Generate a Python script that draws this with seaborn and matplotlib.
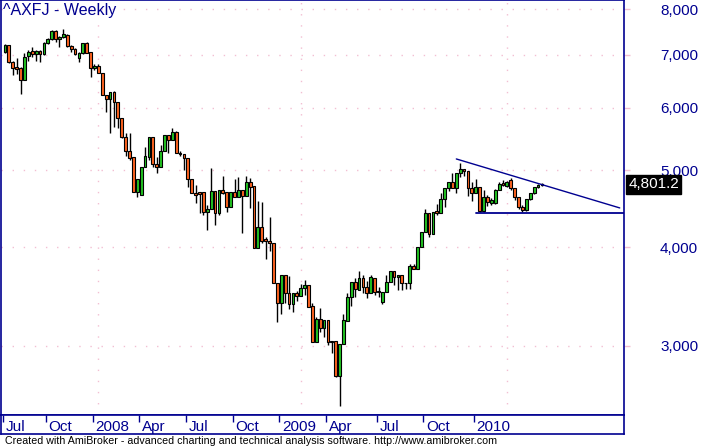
import numpy as np
import matplotlib
matplotlib.use("Agg")
import matplotlib.pyplot as plt
import matplotlib.transforms as mtransforms
import seaborn as sns

# weekly OHLC, ^AXFJ (one value per bar)
opens = [7058, 7206, 6857, 6759, 6740, 6510, 6978, 7077, 7018, 7077,
         7018, 7246, 7329, 7503, 7329, 7373, 7417, 7186, 7117, 6937,
         7038, 7246, 7058, 6740, 6779, 6642, 6230, 6157, 6285, 6104,
         5826, 5513, 5293, 5200, 4697, 4656, 5051, 5200, 5513, 5096,
         5051, 5293, 5545, 5465, 5594, 5262, 5246, 5185, 4878, 4683,
         4697, 4697, 4432, 4470, 4710, 4419, 4724, 4697, 4497, 4697,
         4629, 4724, 4643, 4835, 4779, 3991, 4242, 4096, 4072, 4049,
         3604, 3401, 3689, 3501, 3391, 3501, 3470, 3552, 3583, 3370,
         3035, 3246, 3162, 3237, 3044, 3044, 2749, 3018, 3228, 3460,
         3615, 3532, 3657, 3562, 3501, 3657, 3521, 3411, 3511, 3615,
         3732, 3668, 3689, 3604, 3604, 3787, 3754, 4003, 4180, 4419,
         4156, 4445, 4419, 4602, 4751, 4835, 4751, 4964, 5022, 4993,
         4751, 4683, 4765, 4445, 4629, 4549, 4549, 4724, 4821, 4779,
         4864, 4751, 4629, 4497, 4457, 4602, 4683, 4765, 4793]
highs = [7226, 7206, 6876, 6937, 6759, 7038, 7097, 7165, 7097, 7097,
         7266, 7351, 7525, 7525, 7395, 7548, 7439, 7206, 7137, 7058,
         7246, 7266, 7058, 6818, 6818, 6642, 6230, 6285, 6303, 6104,
         5826, 5578, 5578, 5200, 4878, 5051, 5354, 5513, 5513, 5200,
         5385, 5545, 5545, 5659, 5610, 5293, 5246, 5185, 4878, 4793,
         4697, 4697, 4523, 5036, 4710, 4724, 4921, 4697, 4697, 4878,
         4907, 4724, 4921, 4892, 4779, 4576, 4563, 4120, 4367, 4049,
         3604, 3689, 3689, 3678, 3501, 3521, 3594, 3636, 3583, 3401,
         3265, 3351, 3237, 3237, 3044, 3044, 3018, 3293, 3501, 3615,
         3657, 3732, 3689, 3625, 3689, 3657, 3562, 3511, 3689, 3732,
         3732, 3689, 3689, 3604, 3809, 3809, 4003, 4180, 4470, 4419,
         4432, 4536, 4683, 4751, 4835, 4964, 4964, 5110, 5022, 4993,
         4835, 4878, 4765, 4724, 4656, 4616, 4738, 4835, 4864, 4849,
         4892, 4751, 4629, 4523, 4602, 4683, 4765, 4807, 4821]
lows = [7038, 6837, 6603, 6622, 6248, 6510, 6876, 6958, 6876, 6857,
        6999, 7226, 7307, 7266, 7165, 7351, 7165, 7058, 6999, 6857,
        7018, 7038, 6566, 6701, 6642, 6230, 5929, 5578, 5675, 5659,
        5497, 5216, 5155, 4697, 4629, 4656, 5051, 5155, 5051, 4964,
        5051, 5293, 5262, 5465, 5262, 5216, 5007, 4765, 4683, 4549,
        4419, 4393, 4205, 4470, 4267, 4393, 4670, 4432, 4497, 4629,
        4629, 4168, 4643, 4483, 3991, 3991, 4049, 3864, 3956, 3604,
        3218, 3293, 3401, 3342, 3312, 3421, 3470, 3480, 3361, 3035,
        3035, 3125, 3080, 3009, 2939, 2741, 2520, 3018, 3228, 3370,
        3460, 3532, 3501, 3450, 3501, 3480, 3460, 3391, 3511, 3615,
        3583, 3532, 3532, 3542, 3542, 3754, 3754, 4003, 4180, 4120,
        4156, 4393, 4419, 4497, 4710, 4751, 4683, 4907, 4921, 4643,
        4576, 4683, 4432, 4432, 4510, 4523, 4536, 4724, 4779, 4765,
        4724, 4589, 4470, 4432, 4445, 4589, 4670, 4751, 4779]
closes = [7206, 6857, 6740, 6720, 6510, 6958, 7058, 7018, 7077, 7018,
          7246, 7329, 7503, 7329, 7373, 7439, 7186, 7117, 7018, 7038,
          7246, 7038, 6740, 6779, 6642, 6230, 6157, 6285, 6104, 5826,
          5513, 5293, 5185, 4697, 4878, 5051, 5216, 5513, 5096, 5051,
          5293, 5545, 5465, 5594, 5262, 5246, 5185, 4878, 4683, 4656,
          4670, 4432, 4470, 4710, 4419, 4724, 4683, 4497, 4697, 4629,
          4724, 4643, 4835, 4765, 3991, 4242, 4072, 4072, 4049, 3604,
          3401, 3689, 3501, 3391, 3501, 3470, 3552, 3583, 3361, 3035,
          3246, 3162, 3237, 3035, 3035, 2749, 3018, 3237, 3460, 3615,
          3542, 3657, 3562, 3501, 3668, 3511, 3511, 3511, 3615, 3732,
          3668, 3689, 3604, 3600, 3787, 3754, 4003, 4180, 4419, 4156,
          4432, 4419, 4602, 4751, 4835, 4751, 4964, 5022, 4993, 4751,
          4683, 4765, 4445, 4629, 4563, 4589, 4724, 4807, 4793, 4835,
          4751, 4629, 4497, 4457, 4602, 4683, 4765, 4793, 4801.2]

tick_bars = [0, 11, 23, 35, 47, 59, 71, 83, 96, 108, 121]
tick_labels = ["Jul", "Oct", "2008", "Apr", "Jul", "Oct", "2009", "Apr", "Jul", "Oct", "2010"]
price_ticks = [3000, 4000, 5000, 6000, 7000, 8000]
grid_bars = [24, 76, 129]

# hand-drawn trend lines (bar index, price)
resist_x = [116, 158]
resist_y = [5170, 4483]
support_x = [121, 160]
support_y = [4419, 4419]

sns.set_theme(style="white")
plt.rcParams["font.family"] = ["Liberation Sans", "DejaVu Sans"]

navy = "#000090"
up_col = "#22c422"
down_col = "#ff6420"
grid_col = "#f2bfd2"

fig = plt.figure(figsize=(7.01, 4.48), dpi=100)
W, H = 701, 448
ax = fig.add_axes([1 / W, (H - 415) / H, 623 / W, 415 / H])
ax_d = fig.add_axes([1 / W, (H - 434) / H, 623 / W, 19 / H], sharex=ax)

x = np.arange(len(closes))
o = np.array(opens, dtype=float)
c = np.array(closes, dtype=float)
hi = np.array(highs, dtype=float)
lo = np.array(lows, dtype=float)
cols = [up_col if cc >= oo else down_col for oo, cc in zip(o, c)]

ax.set_yscale("log")
ax.vlines(x, lo, hi, color="black", lw=1.0, zorder=2)
ax.bar(x, np.maximum(np.abs(c - o), 2), bottom=np.minimum(o, c), width=0.72,
       color=cols, edgecolor="black", linewidth=0.8, zorder=3)

sns.lineplot(x=resist_x, y=resist_y, ax=ax, color=navy, lw=1.0, zorder=4)
sns.lineplot(x=support_x, y=support_y, ax=ax, color=navy, lw=1.3, zorder=4)

ax.set_xlim(-1.03, 159.1)
ax.set_ylim(2453, 8213)

# dotted grid
for p in price_ticks:
    ax.axhline(p, color=grid_col, lw=1, ls=(0, (1, 7)), zorder=0)
for g in grid_bars:
    ax.axvline(g, color=grid_col, lw=1, ls=(0, (1, 7)), zorder=0)

ax.set_yticks(price_ticks)
ax.set_yticklabels([f"{p:,}" for p in price_ticks])
ax.yaxis.set_minor_locator(matplotlib.ticker.NullLocator())
ax.tick_params(axis="y", which="both", left=False, right=True, labelleft=False,
               labelright=True, length=4, width=1, color=grid_col, pad=22,
               labelcolor=navy, labelsize=11)
ax.tick_params(axis="x", bottom=False, labelbottom=False)
for s in ax.spines.values():
    s.set_color(navy)
    s.set_linewidth(1.2)

# last price tag
ax.annotate(f"{closes[-1]:,.1f}", xy=(1.0, closes[-1]),
            xycoords=("axes fraction", "data"), xytext=(3, 0),
            textcoords="offset points", va="center", ha="left",
            color="white", fontsize=11,
            bbox=dict(boxstyle="square,pad=0.15", fc="black", ec="black"))

# date strip
ax_d.set_yticks([])
ax_d.set_xticks([b - 0.5 for b in tick_bars])
ax_d.tick_params(axis="x", bottom=False, top=True, direction="in", length=5,
                 width=1, color=navy, labelbottom=False, labeltop=False)
for s in ax_d.spines.values():
    s.set_color(navy)
    s.set_linewidth(1.2)
off = mtransforms.offset_copy(ax_d.transData, fig=fig, x=2, y=0, units="points")
trans = mtransforms.blended_transform_factory(off, ax_d.transAxes)
for b, lab in zip(tick_bars, tick_labels):
    ax_d.text(b - 0.5, 0.16, lab, transform=trans, ha="left", va="baseline",
              color=navy, fontsize=11)

fig.text(3 / W, 1 - 3 / H, "^AXFJ - Weekly", ha="left", va="top", color=navy, fontsize=11.5)
fig.text(5 / W, (H - 441) / H,
         "Created with AmiBroker - advanced charting and technical analysis software. http://www.amibroker.com",
         ha="left", va="center", color="black", fontsize=7.7)

fig.savefig("out.png", dpi=100)
